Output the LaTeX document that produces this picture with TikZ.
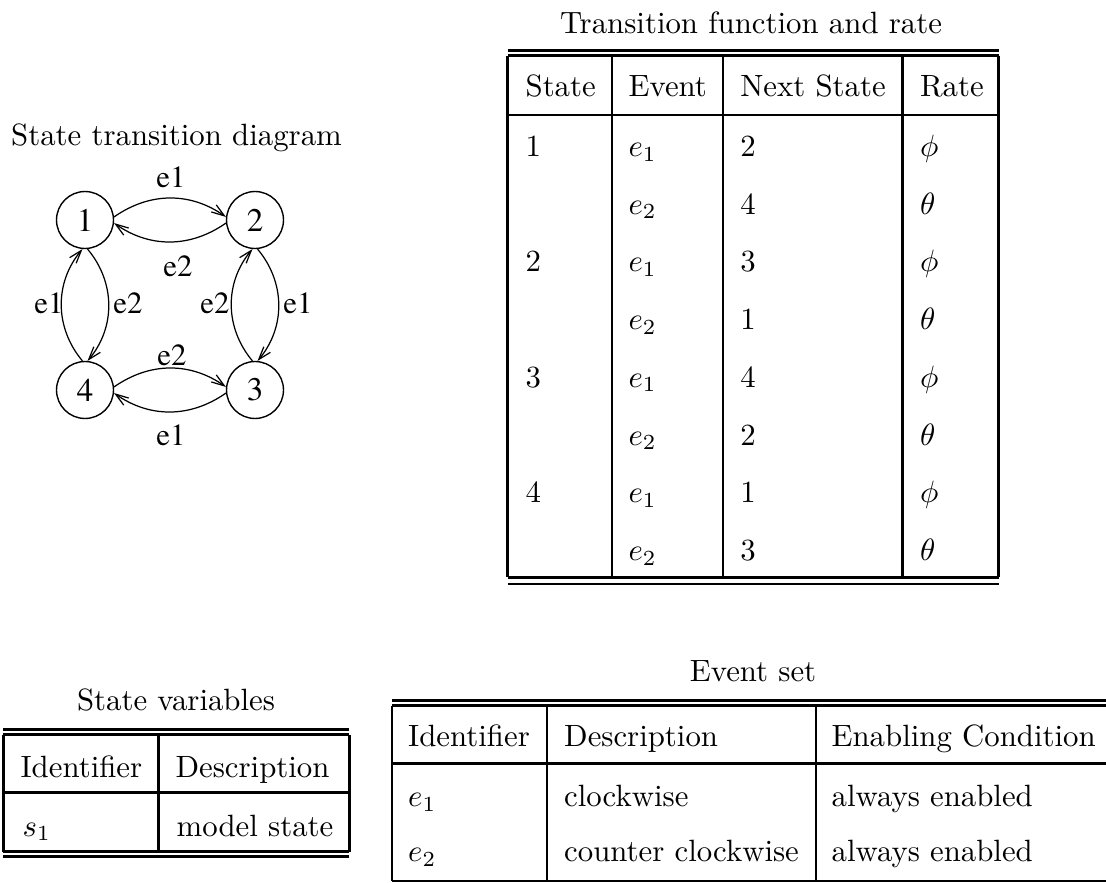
\documentclass[tikz,border=0pt]{standalone}
\usepackage{fontspec}
\newfontfamily\timesfont{texgyretermes-regular.otf}
\usetikzlibrary{arrows.meta}
\begin{document}
\begin{tikzpicture}[x=0.3247pt,y=-0.3247pt,
  tl/.style={line width=0.8pt},
  txt/.style={anchor=base west, inner sep=0pt, font=\fontsize{10}{12}\selectfont},
  ttl/.style={anchor=base, inner sep=0pt, font=\fontsize{10}{12}\selectfont},
  st/.style={circle, draw, line width=0.45pt, minimum size=18.5pt, inner sep=0pt, font=\timesfont\fontsize{10.7}{13}\selectfont},
  lbl/.style={inner sep=0pt, font=\timesfont\fontsize{10}{12}\selectfont},
  arr/.style={-{Straight Barb[length=4.2pt,width=2.8pt]}, line width=0.4pt}]
\useasboundingbox (0,0) rectangle (1106,882);
\clip (0,0) rectangle (1106,882);

% ---------- State transition diagram ----------
\node[ttl] (dtitle) at (176.5,146) {State transition diagram};
\node[st] (n1) at (85,220) {1};
\node[st] (n2) at (255,220) {2};
\node[st] (n3) at (255,390) {3};
\node[st] (n4) at (85,390) {4};

\draw[arr] (n1.6) to[out=35,in=145] (n2.174);
\draw[arr] (n2.186) to[out=-145,in=-35] (n1.354);
\draw[arr] (n4.95) to[out=130,in=-130] (n1.265);
\draw[arr] (n1.275) to[out=-50,in=50] (n4.85);
\draw[arr] (n3.95) to[out=130,in=-130] (n2.265);
\draw[arr] (n2.275) to[out=-50,in=50] (n3.85);
\draw[arr] (n4.6) to[out=35,in=145] (n3.174);
\draw[arr] (n3.186) to[out=-145,in=-35] (n4.354);

\node[lbl] (l12) at (171,177) {e1};
\node[lbl] (l21) at (178,266) {e2};
\node[lbl] (l41) at (49,303) {e1};
\node[lbl] (l14) at (128,303) {e2};
\node[lbl] (l32) at (215,303) {e2};
\node[lbl] (l23) at (298,303) {e1};
\node[lbl] (l43) at (172,355) {e2};
\node[lbl] (l34) at (171,435) {e1};

% ---------- Transition function and rate ----------
\node[ttl] (ttitle) at (751,33.3) {Transition function and rate};
\draw[tl] (507.7,50.7) -- (998.6,50.7);
\draw[tl] (507.7,55.7) -- (998.6,55.7);
\foreach \xx in {507.7,612.1,723,902.4,998.6}
  \draw[tl] (\xx,55.7) -- (\xx,577.3);
\draw[tl] (507.7,115) -- (998.6,115);
\draw[tl] (507.7,577.3) -- (998.6,577.3);
\draw[tl] (507.7,584) -- (998.6,584);
\node[txt] (h1) at (525,96.7) {State};
\node[txt] (h2) at (628,96.7) {Event};
\node[txt] (h3) at (739.7,96.7) {Next State};
\node[txt] (h4) at (919.4,96.7) {Rate};
\foreach \s/\e/\n/\r [count=\i from 0] in {1/e_1/2/\phi,{}/e_2/4/\theta,2/e_1/3/\phi,{}/e_2/1/\theta,3/e_1/4/\phi,{}/e_2/2/\theta,4/e_1/1/\phi,{}/e_2/3/\theta}{
  \pgfmathsetmacro\yy{156.5+57.7*\i}
  \node[txt] (ts\i) at (525,\yy) {\s};
  \node[txt] (te\i) at (628,\yy) {$\e$};
  \node[txt] (tn\i) at (739.7,\yy) {\n};
  \node[txt] (tr\i) at (919.4,\yy) {$\r$};
}

% ---------- State variables ----------
\node[ttl] (vtitle) at (176,710) {State variables};
\draw[tl] (3.3,729.3) -- (349.3,729.3);
\draw[tl] (3.3,734.7) -- (349.3,734.7);
\foreach \xx in {3.3,158.3,349.3}
  \draw[tl] (\xx,734.7) -- (\xx,851.7);
\draw[tl] (3.3,792.3) -- (349.3,792.3);
\draw[tl] (3.3,851.7) -- (349.3,851.7);
\draw[tl] (3.3,856.7) -- (349.3,856.7);
\node[txt] (vh1) at (20,777) {Identifier};
\node[txt] (vh2) at (175,777) {Description};
\node[txt] (vr1) at (22,836) {$s_1$};
\node[txt] (vr2) at (176,836) {model state};

% ---------- Event set ----------
\node[ttl] (etitle) at (753,681.7) {Event set};
\draw[tl] (391.9,700.7) -- (1130,700.7);
\draw[tl] (391.9,705.7) -- (1130,705.7);
\foreach \xx in {391.9,547,815.8}
  \draw[tl] (\xx,705.7) -- (\xx,881);
\draw[tl] (391.9,763.3) -- (1130,763.3);
\draw[tl] (391.9,881) -- (1130,881);
\node[txt] (eh1) at (407.6,746.7) {Identifier};
\node[txt] (eh2) at (563.6,746.7) {Description};
\node[txt] (eh3) at (831,746.7) {Enabling Condition};
\node[txt] (er11) at (407.6,806.7) {$e_1$};
\node[txt] (er12) at (563.6,806.7) {clockwise};
\node[txt] (er13) at (831,806.7) {always enabled};
\node[txt] (er21) at (407.6,861.7) {$e_2$};
\node[txt] (er22) at (563.6,861.7) {counter clockwise};
\node[txt] (er23) at (831,861.7) {always enabled};
\end{tikzpicture}
\end{document}
